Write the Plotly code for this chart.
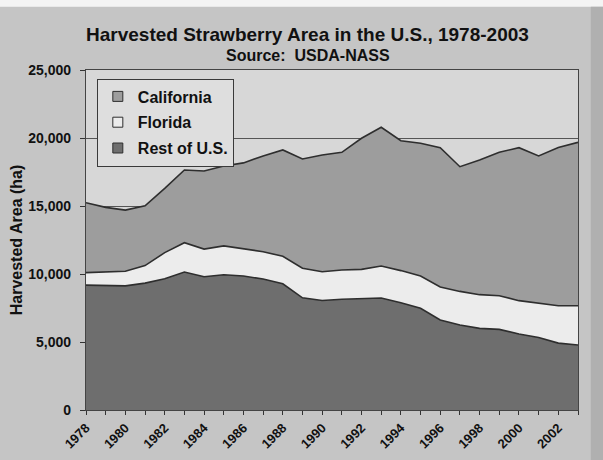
import plotly.graph_objects as go

# Harvested strawberry area (hectares) by region, 1978-2003
years = list(range(1978, 2004))
rest_of_us = [9180, 9150, 9130, 9330, 9650, 10150, 9800, 9950, 9850, 9630,
              9280, 8250, 8050, 8140, 8160, 8230, 7880, 7480, 6620, 6250,
              6000, 5930, 5590, 5330, 4920, 4780]
florida = [920, 990, 1070, 1290, 1920, 2150, 2030, 2120, 2000, 2010,
           2020, 2170, 2120, 2150, 2180, 2360, 2370, 2370, 2430, 2470,
           2480, 2470, 2450, 2510, 2740, 2890]
california = [5140, 4760, 4500, 4400, 4730, 5350, 5740, 5870, 6320, 7040,
              7820, 8040, 8580, 8660, 9640, 10200, 9550, 9760, 10240, 9170,
              9900, 10550, 11250, 10840, 11640, 12010]

y_ticks = [0, 5000, 10000, 15000, 20000, 25000]
y_tick_text = ["0", "5,000", "10,000", "15,000", "20,000", "25,000"]
x_ticks = list(range(1978, 2003, 2))

FONT = "Liberation Sans, Arial, sans-serif"
EDGE = "#2e2e2e"
INK = "#111111"

# bottom-to-top stacking order
series = [
    ("Rest of U.S.", rest_of_us, "#6e6e6e"),
    ("Florida", florida, "#ececec"),
    ("California", california, "#9d9d9d"),
]

fig = go.Figure()
for name, vals, color in series:
    fig.add_trace(go.Scatter(
        x=years, y=vals, name=name, mode="lines",
        stackgroup="one", showlegend=False,
        line=dict(color=EDGE, width=1.6),
        fillcolor=color,
    ))

# legend entries drawn as small bordered squares, California listed first
for rank, (name, _, color) in enumerate(reversed(series)):
    fig.add_trace(go.Scatter(
        x=[None], y=[None], name=name, mode="markers",
        legendgroup=name, legendrank=rank + 1, showlegend=True,
        marker=dict(symbol="square", size=10, color=color,
                    line=dict(color=EDGE, width=1)),
    ))

fig.update_layout(
    width=603, height=460,
    margin=dict(l=86, r=25, t=70, b=50, autoexpand=False),
    paper_bgcolor="#c5c5c5",
    plot_bgcolor="#d7d7d7",
    font=dict(family=FONT, color=INK),
    showlegend=True,
    legend=dict(
        x=0.022, y=0.975, xanchor="left", yanchor="top",
        bgcolor="#dedede", bordercolor="#3a3a3a", borderwidth=1,
        traceorder="grouped", tracegroupgap=2,
        font=dict(family=FONT, size=16, color=INK, weight="bold"),
        itemwidth=30,
    ),
    xaxis=dict(
        range=[1978, 2003], tickmode="array", tickvals=x_ticks,
        ticktext=[str(v) for v in x_ticks], automargin=False,
        tickangle=-45, ticks="outside", ticklen=4, tickcolor="#333333",
        minor=dict(dtick=1, tick0=1978, ticks="outside", ticklen=4, tickcolor="#333333"),
        showgrid=False, showline=True, linecolor="#444444", linewidth=1.2, mirror=True,
        tickfont=dict(family=FONT, size=13, color=INK, weight="bold"),
        zeroline=False,
    ),
    yaxis=dict(
        range=[0, 25000], tickmode="array", tickvals=y_ticks, ticktext=y_tick_text,
        automargin=False,
        ticks="outside", ticklen=5, tickcolor="#333333", ticklabelstandoff=6,
        showgrid=True, gridcolor="#555555", gridwidth=1,
        showline=True, linecolor="#444444", linewidth=1.2, mirror=True,
        tickfont=dict(family=FONT, size=14, color=INK, weight="bold"),
        title=dict(text="Harvested Area (ha)", standoff=1,
                   font=dict(family=FONT, size=16, color=INK, weight="bold")),
        zeroline=False,
    ),
    annotations=[
        dict(text="Harvested Strawberry Area in the U.S., 1978-2003",
             xref="paper", yref="paper", x=0.451, y=1.103, xanchor="center",
             yanchor="middle", showarrow=False,
             font=dict(family=FONT, size=19, color=INK, weight="bold")),
        dict(text="Source:  USDA-NASS",
             xref="paper", yref="paper", x=0.451, y=1.044, xanchor="center",
             yanchor="middle", showarrow=False,
             font=dict(family=FONT, size=16, color=INK, weight="bold")),
    ],
    shapes=[
        # pale band along the top edge of the page
        dict(type="rect", xref="paper", yref="paper", x0=-0.2, x1=1.1,
             y0=1.186, y1=1.21, fillcolor="#f4f4f4", line_width=0, layer="below"),
        # darker margin along the right edge
        dict(type="rect", xref="paper", yref="paper", x0=1.026, x1=1.1,
             y0=-0.2, y1=1.186, fillcolor="#b0b0b0", line_width=0, layer="below"),
    ],
)

fig.write_html("out.html")
